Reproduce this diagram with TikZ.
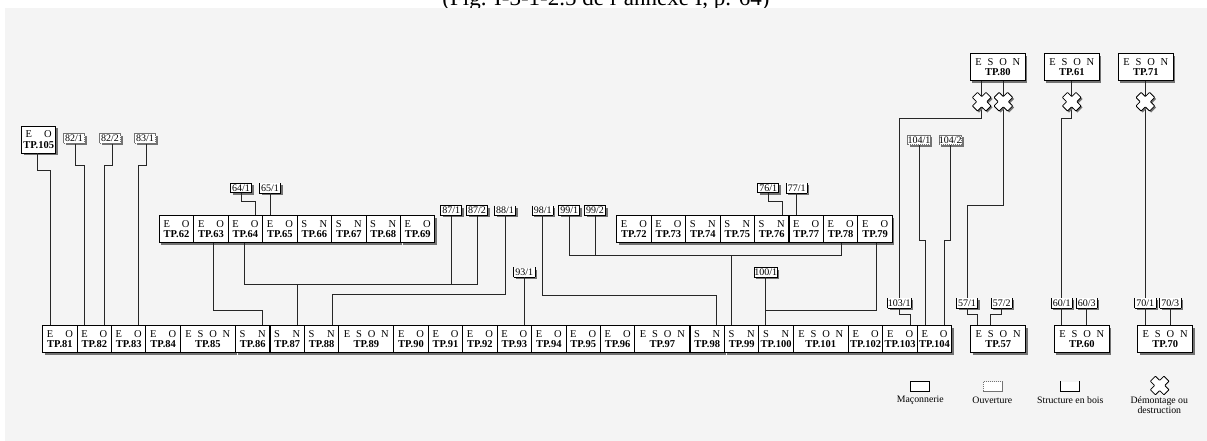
\documentclass[tikz,border=0pt]{standalone}
\usepackage{fontspec}
\setmainfont{Liberation Serif}
\usetikzlibrary{calc,shadows}
\definecolor{fond}{HTML}{F4F4F4}
\newcommand{\faces}[3]{\makebox[26pt]{#1\hfill #2}\\\textbf{TP.#3}}
\newcommand{\allfaces}[1]{\makebox[45pt]{E\hfill S\hfill O\hfill N}\\\textbf{TP.#1}}
\newcommand{\crosspath}{(-3.6,-9.6) -- (3.6,-9.6) -- (3.6,-3.6) -- (9.6,-3.6) -- (9.6,3.6) -- (3.6,3.6) -- (3.6,9.6) -- (-3.6,9.6) -- (-3.6,3.6) -- (-9.6,3.6) -- (-9.6,-3.6) -- (-3.6,-3.6) -- cycle}
\begin{document}
\begin{tikzpicture}[
  x=1pt,y=-1pt,
  shad/.style={drop shadow={shadow xshift=2pt,shadow yshift=-2pt,fill=black!55,opacity=1}},
  tp/.style={draw=black,fill=white,line width=0.9pt,inner sep=0pt,minimum width=34.4pt,
    minimum height=27pt,align=center,shad,font=\fontsize{10.5}{10.2}\selectfont},
  tpw/.style={tp,minimum width=55pt},
  lab/.style={fill=white,inner sep=0pt,minimum width=21pt,minimum height=9.4pt,shad,
    font=\fontsize{10}{10}\selectfont},
  maso/.style={draw=black,line width=0.8pt},
  ouv/.style={draw=black!55,line width=0.8pt,dash pattern=on 1.5pt off 0.5pt},
  bois/.style={append after command={
    (\tikzlastnode.north west) edge[draw=black,line width=0.8pt] (\tikzlastnode.south west)
    (\tikzlastnode.south west) edge[draw=black,line width=0.8pt] (\tikzlastnode.south east)
    (\tikzlastnode.south east) edge[draw=black,line width=0.8pt] (\tikzlastnode.north east)}},
  legbox/.style={fill=white,inner sep=0pt,minimum width=19pt,minimum height=10pt},
  legtxt/.style={align=center,inner sep=0pt,font=\fontsize{9.8}{10}\selectfont},
  link/.style={draw=black!85,line width=0.9pt},
  demont/.pic={\fill[black!55,shift={(1.5,1.5)},rotate=45] \crosspath;
    \draw[black,fill=white,line width=0.8pt,rounded corners=0.6pt,rotate=45] \crosspath;},
  demontleg/.pic={\draw[black,fill=white,line width=0.8pt,rounded corners=0.6pt,rotate=45] \crosspath;},
]
  \useasboundingbox (0,0) rectangle (1207,441);
  \node[anchor=base,inner sep=0pt,font=\fontsize{23}{24}\selectfont] (title) at (606,6) {(Fig. I-3-1-2.5 de l'annexe I, p. 64)};
  \fill[fond] (5,8) rectangle (1207,441);

  \node[tp] (tp105) at (38.7,139.5) {\faces{E}{O}{105}};

  \node[tp] (tp62) at (176.5,229) {\faces{E}{O}{62}};
  \node[tp] (tp63) at (211,229) {\faces{E}{O}{63}};
  \node[tp] (tp64) at (245.4,229) {\faces{E}{O}{64}};
  \node[tp] (tp65) at (279.9,229) {\faces{E}{O}{65}};
  \node[tp] (tp66) at (314.3,229) {\faces{S}{N}{66}};
  \node[tp] (tp67) at (348.8,229) {\faces{S}{N}{67}};
  \node[tp] (tp68) at (383.2,229) {\faces{S}{N}{68}};
  \node[tp] (tp69) at (417.7,229) {\faces{E}{O}{69}};

  \node[tp] (tp72) at (633.9,229) {\faces{E}{O}{72}};
  \node[tp] (tp73) at (668.4,229) {\faces{E}{O}{73}};
  \node[tp] (tp74) at (702.8,229) {\faces{S}{N}{74}};
  \node[tp] (tp75) at (737.3,229) {\faces{S}{N}{75}};
  \node[tp] (tp76) at (771.7,229) {\faces{S}{N}{76}};
  \node[tp] (tp77) at (806.2,229) {\faces{E}{O}{77}};
  \node[tp] (tp78) at (840.6,229) {\faces{E}{O}{78}};
  \node[tp] (tp79) at (875.1,229) {\faces{E}{O}{79}};

  \node[tp] (tp81) at (59.9,339.3) {\faces{E}{O}{81}};
  \node[tp] (tp82) at (94.3,339.3) {\faces{E}{O}{82}};
  \node[tp] (tp83) at (128.7,339.3) {\faces{E}{O}{83}};
  \node[tp] (tp84) at (163.1,339.3) {\faces{E}{O}{84}};
  \node[tpw] (tp85) at (207.8,339.3) {\allfaces{85}};
  \node[tp] (tp86) at (252.7,339.3) {\faces{S}{N}{86}};
  \node[tp] (tp87) at (287.2,339.3) {\faces{S}{N}{87}};
  \node[tp] (tp88) at (321.6,339.3) {\faces{S}{N}{88}};
  \node[tpw] (tp89) at (366.3,339.3) {\allfaces{89}};
  \node[tp] (tp90) at (411,339.3) {\faces{E}{O}{90}};
  \node[tp] (tp91) at (445.5,339.3) {\faces{E}{O}{91}};
  \node[tp] (tp92) at (479.9,339.3) {\faces{E}{O}{92}};
  \node[tp] (tp93) at (514.3,339.3) {\faces{E}{O}{93}};
  \node[tp] (tp94) at (548.8,339.3) {\faces{E}{O}{94}};
  \node[tp] (tp95) at (583.2,339.3) {\faces{E}{O}{95}};
  \node[tp] (tp96) at (617.6,339.3) {\faces{E}{O}{96}};
  \node[tpw] (tp97) at (662.4,339.3) {\allfaces{97}};
  \node[tp] (tp98) at (707.2,339.3) {\faces{S}{N}{98}};
  \node[tp] (tp99) at (741.7,339.3) {\faces{S}{N}{99}};
  \node[tp] (tp100) at (776.1,339.3) {\faces{S}{N}{100}};
  \node[tpw] (tp101) at (820.8,339.3) {\allfaces{101}};
  \node[tp] (tp102) at (865.6,339.3) {\faces{E}{O}{102}};
  \node[tp] (tp103) at (900.1,339.3) {\faces{E}{O}{103}};
  \node[tp] (tp104) at (934.5,339.3) {\faces{E}{O}{104}};

  \node[tpw] (tp57) at (998.2,339.3) {\allfaces{57}};
  \node[tpw] (tp60) at (1081.8,339.3) {\allfaces{60}};
  \node[tpw] (tp70) at (1165.2,339.3) {\allfaces{70}};
  \node[tpw] (tp80) at (997.8,67.2) {\allfaces{80}};
  \node[tpw] (tp61) at (1071.8,67.2) {\allfaces{61}};
  \node[tpw] (tp71) at (1145.8,67.2) {\allfaces{71}};

  \node[lab,ouv] (l821) at (74,138.5) {82/1};
  \node[lab,ouv] (l822) at (110,138.5) {82/2};
  \node[lab,ouv] (l831) at (145,138.5) {83/1};
  \node[lab,maso] (l641) at (241,188) {64/1};
  \node[lab,bois] (l651) at (270,188) {65/1};
  \node[lab,maso] (l871) at (451.3,210.5) {87/1};
  \node[lab,maso] (l872) at (477,210.5) {87/2};
  \node[lab,bois] (l881) at (505,210.5) {88/1};
  \node[lab,bois] (l981) at (542.7,210.5) {98/1};
  \node[lab,maso] (l991) at (569.3,210.5) {99/1};
  \node[lab,maso] (l992) at (595,210.5) {99/2};
  \node[lab,bois] (l931) at (524.3,272.3) {93/1};
  \node[lab,maso] (l1001) at (765.7,272.3) {100/1};
  \node[lab,maso] (l761) at (768.3,188) {76/1};
  \node[lab,bois] (l771) at (796.7,188) {77/1};
  \node[lab,ouv] (l1041) at (919,140) {104/1};
  \node[lab,ouv] (l1042) at (950.3,140) {104/2};
  \node[lab,bois] (l1031) at (899.3,303) {103/1};
  \node[lab,bois] (l571) at (967,303) {57/1};
  \node[lab,bois] (l572) at (1001.7,303) {57/2};
  \node[lab,bois] (l601) at (1061.7,303) {60/1};
  \node[lab,bois] (l603) at (1086.7,303) {60/3};
  \node[lab,bois] (l701) at (1145.3,303) {70/1};
  \node[lab,bois] (l703) at (1170.3,303) {70/3};

  \coordinate (bus64) at (300,284.7);
  \coordinate (bus99) at (600,255.7);
  \coordinate (bus100) at (765.7,310.3);
  \coordinate (x80a) at (981.7,101.7);
  \coordinate (x80b) at (1003.3,101.7);
  \coordinate (x61) at (1071.7,101.7);
  \coordinate (x71) at (1145.3,101.7);

  \draw[link] ([xshift=-1.4]tp105.south) -- ++(0,17) -| ([xshift=-9.6]tp81.north);
  \draw[link] ([xshift=1.3]l821.south) -- ++(0,21.5) -| ([xshift=-10.3]tp82.north);
  \draw[link] ([xshift=2]l822.south) -- ++(0,21.5) -| ([xshift=10]tp82.north);
  \draw[link] ([xshift=1.3]l831.south) -- ++(0,21.5) -| ([xshift=10]tp83.north);
  \draw[link] (l641.south) -- ++(0,8) -| ([xshift=10.3]tp64.north);
  \draw[link] (l651.south) -- (l651.south |- tp65.north);
  \draw[link] ([xshift=2]tp63.south) -- ++(0,67.3) -| ([xshift=9.6]tp86.north);
  \draw[link] ([xshift=-1.1]tp64.south) |- (bus64) -| (l872.south);
  \draw[link] (l871.south) -- (l871.south |- bus64);
  \draw[link] ([xshift=10]tp87.north) -- ([xshift=10]tp87.north |- bus64);
  \draw[link] ([xshift=10.4]tp88.north) -- ++(0,-30.7) -| (l881.south);
  \draw[link] (l931.south) -- (l931.south |- tp93.north);
  \draw[link] (l981.south) -- ++(0,80.1) -| ([xshift=9.5]tp98.north);
  \draw[link] (l991.south) |- (bus99) -| ([xshift=0.7]tp78.south);
  \draw[link] (l992.south) -- (l992.south |- bus99);
  \draw[link] ([xshift=-10.4]tp99.north) -- ([xshift=-10.4]tp99.north |- bus99);
  \draw[link] (l1001.south) -- (l1001.south |- tp100.north);
  \draw[link] ([xshift=1]tp79.south) |- (bus100);
  \draw[link] (l761.south) -- ++(0,8) -| ([xshift=11]tp76.north);
  \draw[link] (l771.south) -- (l771.south |- tp77.north);
  \draw[link] (x80a |- tp80.south) -- ++(0,37) -| (l1031.north);
  \draw[link] (x80b |- tp80.south) -- ++(0,124.3) -| (l571.north);
  \draw[link] (x61 |- tp61.south) -- ++(0,37) -| (l601.north);
  \draw[link] (x71 |- tp71.south) -- (l701.north);
  \draw[link] (l1031.south) -- ++(0,7) -| ([xshift=10.2]tp103.north);
  \draw[link] (l1041.south) -- ++(0,95) -| ([xshift=-9.5]tp104.north);
  \draw[link] (l1042.south) -- ++(0,95) -| ([xshift=10.2]tp104.north);
  \draw[link] (l571.south) -- ++(0,7) -| ([xshift=-20.5]tp57.north);
  \draw[link] (l572.south) -- ++(0,7) -| ([xshift=-7.5]tp57.north);
  \draw[link] (l601.south) -- (l601.south |- tp60.north);
  \draw[link] (l603.south) -- (l603.south |- tp60.north);
  \draw[link] (l701.south) -- (l701.south |- tp70.north);
  \draw[link] (l703.south) -- (l703.south |- tp70.north);

  \pic at (x80a) {demont};
  \pic at (x80b) {demont};
  \pic at (x61) {demont};
  \pic at (x71) {demont};

  \node[legbox,maso] (lmaso) at (920,386.5) {};
  \node[legbox,ouv] (louv) at (992.6,386.5) {};
  \node[legbox,bois] (lbois) at (1070,386.5) {};
  \coordinate (ldem) at (1159.7,385.5);
  \pic at (ldem) {demontleg};
  \node[legtxt] (tmaso) at (920.3,400.5) {Maçonnerie};
  \node[legtxt] (touv) at (992.3,400.5) {Ouverture};
  \node[legtxt] (tbois) at (1070.3,400.5) {Structure en bois};
  \node[legtxt,anchor=north] (tdem) at (1159.3,396.5) {Démontage ou\\destruction};
\end{tikzpicture}
\end{document}
